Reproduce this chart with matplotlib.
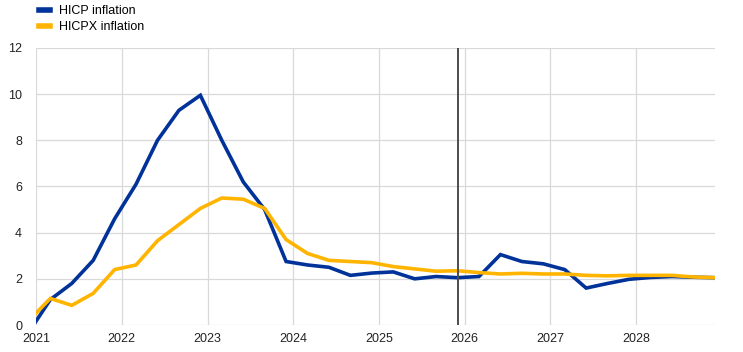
import numpy as np
import matplotlib
matplotlib.use('Agg')
import matplotlib.pyplot as plt
from matplotlib.lines import Line2D

plt.rcParams['font.family'] = ['Liberation Sans', 'DejaVu Sans']

# quarterly dates (month 3, 6, 9, 12 of each year), 2020Q4 to 2028Q4
years = np.arange(2021, 2029)
quarters = ['2020Q4'] + [f'{y}Q{q}' for y in years for q in range(1, 5)]
hicp = [-0.3,
        1.1, 1.8, 2.8, 4.6,
        6.1, 8.0, 9.3, 9.95,
        8.0, 6.2, 5.0, 2.75,
        2.6, 2.5, 2.15, 2.25,
        2.3, 2.0, 2.1, 2.05,
        2.1, 3.05, 2.75, 2.65,
        2.4, 1.6, 1.8, 1.98,
        2.06, 2.1, 2.07, 2.05]
hicpx = [0.2,
         1.15, 0.85, 1.37, 2.4,
         2.6, 3.65, 4.35, 5.05,
         5.5, 5.45, 5.05, 3.7,
         3.1, 2.8, 2.75, 2.7,
         2.53, 2.43, 2.33, 2.35,
         2.27, 2.21, 2.24, 2.21,
         2.21, 2.15, 2.13, 2.15,
         2.15, 2.15, 2.08, 2.05]
last_actual = '2025Q4'

def qpos(q):
    y, n = int(q[:4]), int(q[-1])
    return y + (3 * n - 1) / 12.0

x = np.array([qpos(q) for q in quarters])

fig = plt.figure(figsize=(7.43, 3.52), dpi=100)
ax = fig.add_axes([0.0485, 0.0767, 0.9135, 0.787])

ax.plot(x, hicp, color='#003299', lw=2.6, solid_joinstyle='miter', zorder=3)
ax.plot(x, hicpx, color='#ffb400', lw=2.6, solid_joinstyle='miter', zorder=3)
ax.axvline(qpos(last_actual), color='#4d4d4d', lw=1.4, zorder=4)

ax.set_xlim(2021, qpos('2028Q4'))
ax.set_ylim(0, 12)
ax.set_xticks(years)
ax.set_xticklabels([str(y) for y in years])
ax.set_yticks(np.arange(0, 13, 2))
ax.grid(True, color='#d9d9d9', lw=0.9)
ax.set_axisbelow(True)
for s in ax.spines.values():
    s.set_visible(False)
ax.tick_params(length=0, labelsize=9, colors='#222222', pad=6)
ax.tick_params(axis='y', pad=10)

handles = [Line2D([], [], color='#003299', lw=4),
           Line2D([], [], color='#ffb400', lw=4)]
fig.legend(handles, ['HICP inflation', 'HICPX inflation'], loc='upper left',
           bbox_to_anchor=(0.038, 1.017), frameon=False, fontsize=9,
           handlelength=0.85, handletextpad=0.75, labelspacing=0.32)

fig.savefig('out.png', dpi=100)
